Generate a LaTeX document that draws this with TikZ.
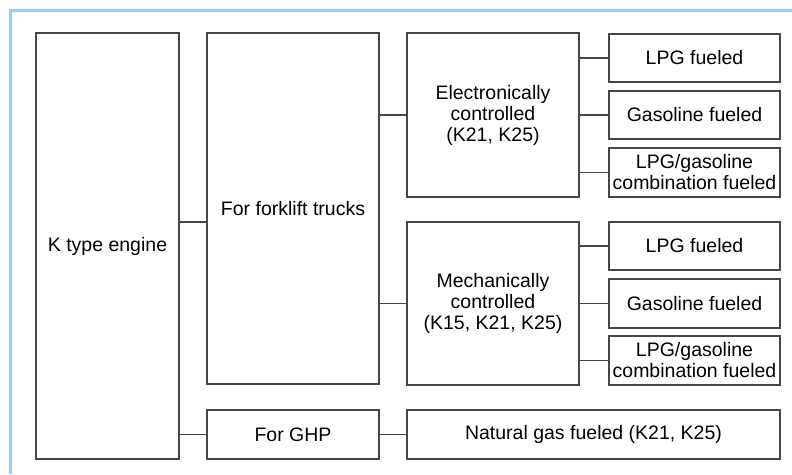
\documentclass[tikz,border=0pt]{standalone}
\usepackage{fontspec}
\setmainfont{Liberation Sans}
\definecolor{edgeblue}{RGB}{160,200,255}
\definecolor{boxline}{RGB}{70,70,70}
\tikzset{
  box/.style={draw=boxline, line width=1.4pt, fill=white, align=center, inner sep=0pt,
    font=\fontsize{19.5}{21}\selectfont, text=black},
  link/.style={draw=boxline, line width=1.4pt}
}
\begin{document}
\begin{tikzpicture}[x=1pt,y=-1pt]
\useasboundingbox (0,0) rectangle (792,474);
\fill[white] (0,0) rectangle (792,474);
\draw[edgeblue, line width=3pt] (10.5,474) -- (10.5,10.5) -- (792,10.5);

\node[box, minimum width=143pt, minimum height=426pt] (k) at (107.5,246) {K type engine};
\node[box, minimum width=172pt, minimum height=351pt] (fl) at (293,208.5) {For forklift trucks};
\node[box, minimum width=172pt, minimum height=49pt] (ghp) at (293,434.5) {For GHP};
\node[box, minimum width=172pt, minimum height=164pt] (el) at (493,115) {Electronically\\controlled\\(K21, K25)};
\node[box, minimum width=172pt, minimum height=163pt] (me) at (493,303.5) {Mechanically\\controlled\\(K15, K21, K25)};
\node[box, minimum width=171pt, minimum height=48pt] (e1) at (694.5,58) {LPG fueled};
\node[box, minimum width=171pt, minimum height=48pt] (e2) at (694.5,115) {Gasoline fueled};
\node[box, minimum width=171pt, minimum height=49pt] (e3) at (694.5,172.5) {LPG/gasoline\\combination fueled};
\node[box, minimum width=171pt, minimum height=48pt] (m1) at (694.5,246) {LPG fueled};
\node[box, minimum width=171pt, minimum height=49pt] (m2) at (694.5,303.5) {Gasoline fueled};
\node[box, minimum width=171pt, minimum height=49pt] (m3) at (694.5,360.5) {LPG/gasoline\\combination fueled};
\node[box, minimum width=373pt, minimum height=49pt] (ng) at (593.5,434.5) {Natural gas fueled (K21, K25)};

\coordinate (kfl) at (0,222);
\draw[link] (k.east |- kfl) -- (fl.west |- kfl);
\draw[link] (k.east |- ghp.west) -- (ghp.west);
\draw[link] (ghp.east) -- (ng.west);
\draw[link] (fl.east |- el.west) -- (el.west);
\draw[link] (fl.east |- me.west) -- (me.west);
\draw[link] (el.east |- e1.west) -- (e1.west);
\draw[link] (el.east |- e2.west) -- (e2.west);
\draw[link] (el.east |- e3.west) -- (e3.west);
\draw[link] (me.east |- m1.west) -- (m1.west);
\draw[link] (me.east |- m2.west) -- (m2.west);
\draw[link] (me.east |- m3.west) -- (m3.west);
\end{tikzpicture}
\end{document}
